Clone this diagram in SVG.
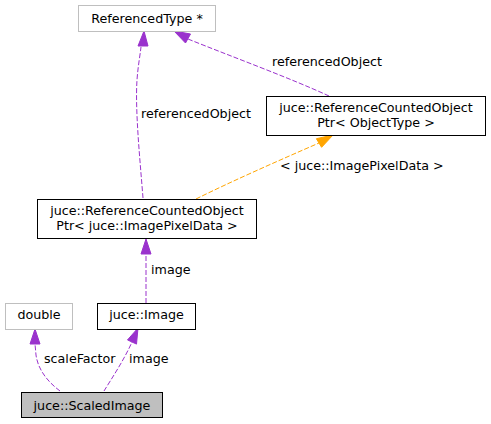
<svg xmlns="http://www.w3.org/2000/svg" width="491" height="424" viewBox="0 0 491 424">
<style>
text{font-family:"DejaVu Sans","Liberation Sans",sans-serif;font-size:12.7px;fill:#000}
.c{text-anchor:middle}
.box{fill:#fff;stroke:#000;stroke-width:1}
.ext{fill:#fff;stroke:#bfbfbf;stroke-width:1}
.cur{fill:#bfbfbf;stroke:#000;stroke-width:1}
.e{fill:none;stroke:#9a32cd;stroke-width:1;stroke-dasharray:5,2}
.eo{fill:none;stroke:#ffa500;stroke-width:1;stroke-dasharray:5,2}
.ah{fill:#9a32cd;stroke:#9a32cd}
.aho{fill:#ffa500;stroke:#ffa500}
</style>
<rect width="491" height="424" fill="#fff"/>
<g id="edges">
<path class="e" d="M143,198 C140,160 135,110 137,80 C138,66 140,56 141,47"/>
<polygon class="ah" points="138,46 144,31 148,46"/>
<text x="141" y="118">referencedObject</text>
<path class="e" d="M329,96 C290,78 230,56 188,39"/>
<polygon class="ah" points="190.5,34 174,31 185.5,43"/>
<text x="272" y="66">referencedObject</text>
<path class="eo" d="M196,199 C230,182 280,160 319,143"/>
<polygon class="aho" points="321.6,147.3 333,135 316.4,138.7"/>
<text x="280" y="170">&lt; juce::ImagePixelData &gt;</text>
<path class="e" d="M146,303 L146,254"/>
<polygon class="ah" points="141,254 146,239 151,254"/>
<text x="151" y="274">image</text>
<path class="e" d="M60,391 C48,382 38,370 36,355 L35,344"/>
<polygon class="ah" points="30,344 35,329 40,344"/>
<text x="44" y="363">scaleFactor</text>
<path class="e" d="M104,391 C112,378 124,360 132,342"/>
<polygon class="ah" points="127.5,339.9 138,328 136.5,344.1"/>
<text x="129" y="363">image</text>
</g>
<g id="node-referencedtype">
<rect class="ext" x="78.5" y="5.5" width="137" height="26"/>
<text class="c" x="147" y="22.5">ReferencedType *</text>
</g>
<g id="node-rcop-objecttype">
<rect class="box" x="266.5" y="96.5" width="219" height="39"/>
<text class="c" x="376" y="112">juce::ReferenceCountedObject</text>
<text class="c" x="376" y="127">Ptr&lt; ObjectType &gt;</text>
</g>
<g id="node-rcop-imagepixeldata">
<rect class="box" x="37.5" y="199.5" width="219" height="39"/>
<text class="c" x="147" y="215">juce::ReferenceCountedObject</text>
<text class="c" x="147" y="230">Ptr&lt; juce::ImagePixelData &gt;</text>
</g>
<g id="node-double">
<rect class="ext" x="5.5" y="303.5" width="67" height="26"/>
<text class="c" x="39" y="319">double</text>
</g>
<g id="node-image">
<rect class="box" x="97.5" y="303.5" width="98" height="26"/>
<text class="c" x="146.5" y="319">juce::Image</text>
</g>
<g id="node-scaledimage">
<rect class="cur" x="21.5" y="392.5" width="141" height="25"/>
<text class="c" x="92" y="410">juce::ScaledImage</text>
</g>
</svg>
